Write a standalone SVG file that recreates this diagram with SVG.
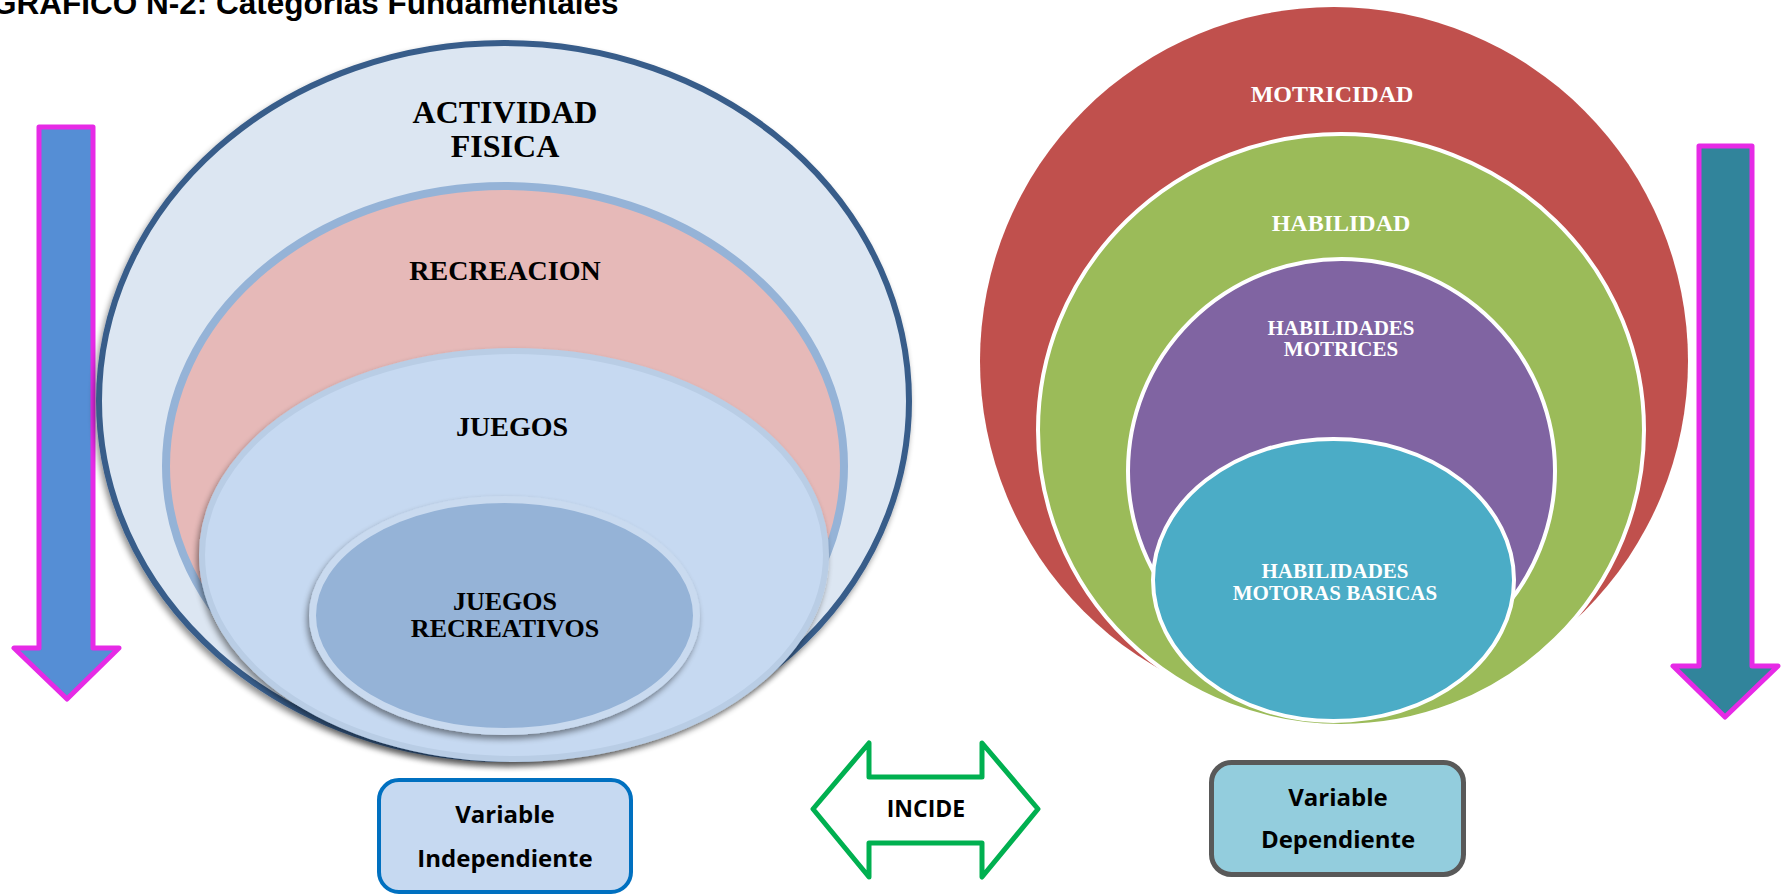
<svg xmlns="http://www.w3.org/2000/svg" width="1786" height="894" viewBox="0 0 1786 894">
<defs>
<style>
.serif{font-family:"Liberation Serif","Times New Roman",serif;font-weight:bold;text-anchor:middle}
.dark{fill:#000}
.light{fill:#fff}
.sans{font-family:"Open Sans","Liberation Sans",sans-serif;font-weight:bold;text-anchor:middle;fill:#000}
.arrowv{stroke:#E62AE6;stroke-width:5;stroke-linejoin:round}
.wring{stroke:#fff;stroke-width:4}
</style>
<filter id="sh" x="-10%" y="-10%" width="120%" height="125%">
<feGaussianBlur in="SourceAlpha" stdDeviation="3"/>
<feOffset dx="-2" dy="4" result="b"/>
<feComponentTransfer><feFuncA type="linear" slope="0.45"/></feComponentTransfer>
<feMerge><feMergeNode/><feMergeNode in="SourceGraphic"/></feMerge>
</filter>
</defs>
<rect width="1786" height="894" fill="#fff"/>
<text x="-8" y="14" font-family="Liberation Sans, Arial, sans-serif" font-weight="bold" font-size="31.5" fill="#000">GRAFICO N-2: Categorias Fundamentales</text>

<g id="arrow-left">
<polygon class="arrowv" fill="#558ED5" points="39,127 93,127 93,648 119,648 67,699 14,648 39,648"/>
</g>
<g id="arrow-right">
<polygon class="arrowv" fill="#31849B" points="1699,146 1752,146 1752,666 1778,666 1725,717 1673,666 1699,666"/>
</g>

<g id="actividad-fisica">
<ellipse cx="504" cy="401" rx="405" ry="358" fill="#DCE6F2" stroke="#385D8A" stroke-width="6" filter="url(#sh)"/>
<text class="serif dark" font-size="32" x="505" y="123">ACTIVIDAD</text>
<text class="serif dark" font-size="32" x="505" y="157">FISICA</text>
</g>
<g id="recreacion">
<ellipse cx="505" cy="466" rx="339" ry="280" fill="#E6B9B8" stroke="#95B3D7" stroke-width="8"/>
<text class="serif dark" font-size="28" x="505" y="280">RECREACION</text>
</g>
<g id="juegos">
<ellipse cx="514" cy="555" rx="312" ry="204" fill="#C6D9F1" stroke="#B9CDE5" stroke-width="6" filter="url(#sh)"/>
<text class="serif dark" font-size="28" x="512" y="436">JUEGOS</text>
</g>
<g id="juegos-recreativos">
<ellipse cx="504.5" cy="615.5" rx="192" ry="116" fill="#95B3D7" stroke="#C9DAEF" stroke-width="7" filter="url(#sh)"/>
<text class="serif dark" font-size="26" x="505" y="610">JUEGOS</text>
<text class="serif dark" font-size="26" x="505" y="637">RECREATIVOS</text>
</g>

<g id="motricidad">
<ellipse cx="1334" cy="361" rx="354" ry="354" fill="#C0504D"/>
<text class="serif light" font-size="24" x="1332" y="102">MOTRICIDAD</text>
</g>
<g id="habilidad">
<ellipse class="wring" cx="1341" cy="430" rx="303" ry="296" fill="#9BBB59"/>
<text class="serif light" font-size="24" x="1341" y="231">HABILIDAD</text>
</g>
<g id="habilidades-motrices">
<ellipse class="wring" cx="1341.5" cy="471" rx="213.5" ry="212" fill="#8064A2"/>
<text class="serif light" font-size="21" x="1341" y="335">HABILIDADES</text>
<text class="serif light" font-size="21" x="1341" y="356">MOTRICES</text>
</g>
<g id="habilidades-motoras-basicas">
<ellipse class="wring" cx="1333.5" cy="580" rx="180.5" ry="141" fill="#4BACC6"/>
<text class="serif light" font-size="21" x="1335" y="578">HABILIDADES</text>
<text class="serif light" font-size="21" x="1335" y="600">MOTORAS BASICAS</text>
</g>

<g id="variable-independiente">
<rect x="379" y="780" width="252" height="112" rx="20" fill="#C6D9F1" stroke="#0070C0" stroke-width="4"/>
<text class="sans" font-size="24" x="505" y="823">Variable</text>
<text class="sans" font-size="24" x="505" y="867">Independiente</text>
</g>
<g id="variable-dependiente">
<rect x="1211.5" y="762.5" width="252" height="112" rx="20" fill="#93CDDD" stroke="#595959" stroke-width="5"/>
<text class="sans" font-size="24" x="1338" y="806">Variable</text>
<text class="sans" font-size="24" x="1338" y="848">Dependiente</text>
</g>

<g id="connectors">
<g id="incide">
<polygon points="813,809 869,743 869,777 982,777 982,743 1038,809 982,877 982,843 869,843 869,877" fill="#fff" stroke="#00B050" stroke-width="5" stroke-linejoin="round"/>
<text class="sans" font-size="23" x="926" y="817">INCIDE</text>
</g>
</g>
</svg>
